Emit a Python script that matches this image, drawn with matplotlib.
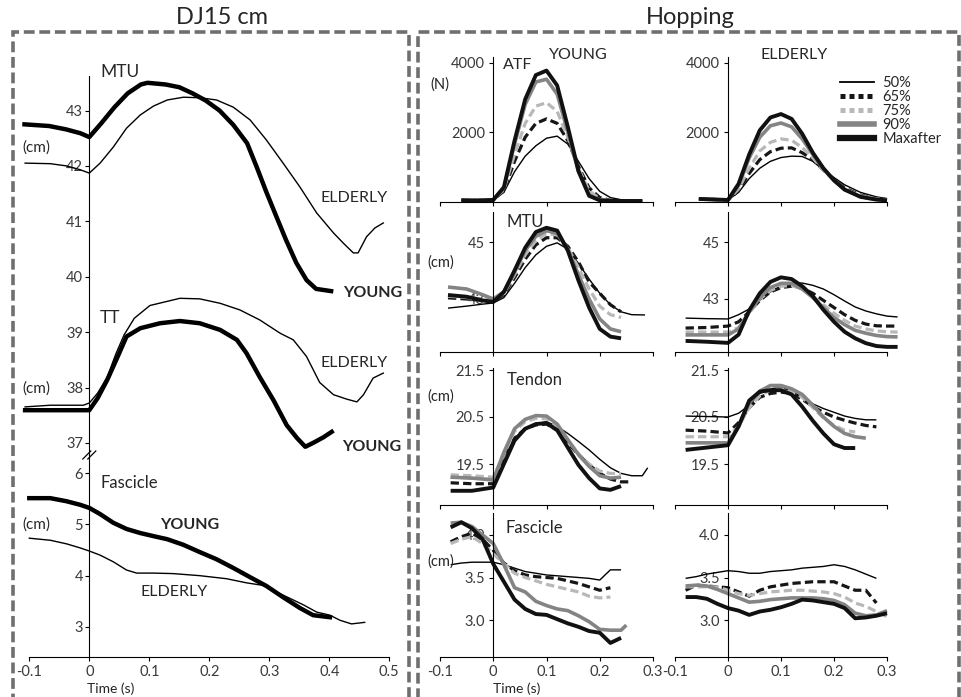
import numpy as np
import matplotlib
matplotlib.use('Agg')
import matplotlib.pyplot as plt
from matplotlib.patches import Rectangle
from matplotlib.lines import Line2D

nan = float('nan')

# ---------------- DJ15 cm (left panel) ----------------
dj_x_mtu_young = [-0.108, -0.067, -0.039, -0.015, 0, 0.02, 0.042, 0.064, 0.086, 0.097, 0.127, 0.15, 0.172,
                  0.194, 0.217, 0.24, 0.263, 0.279, 0.295, 0.312, 0.328, 0.345, 0.362, 0.378, 0.403]
dj_mtu_young = [42.75, 42.72, 42.66, 42.59, 42.52, 42.77, 43.06, 43.31, 43.47, 43.5, 43.47, 43.42, 43.31,
                43.18, 43.0, 42.74, 42.41, 41.98, 41.53, 41.08, 40.66, 40.25, 39.94, 39.78, 39.74]
dj_x_mtu_elderly = [-0.107, -0.065, -0.038, -0.015, 0, 0.018, 0.04, 0.062, 0.085, 0.107, 0.13, 0.157, 0.184,
                    0.212, 0.24, 0.268, 0.295, 0.323, 0.351, 0.379, 0.407, 0.423, 0.44, 0.448, 0.462, 0.476, 0.49]
dj_mtu_elderly = [42.05, 42.04, 42.0, 41.93, 41.87, 42.05, 42.34, 42.68, 42.92, 43.08, 43.19, 43.24, 43.23,
                  43.19, 43.06, 42.83, 42.47, 42.05, 41.62, 41.15, 40.79, 40.61, 40.43, 40.43, 40.72, 40.88, 40.97]
dj_x_tt_young = [-0.107, -0.065, 0, 0.014, 0.03, 0.047, 0.062, 0.085, 0.118, 0.151, 0.184, 0.218, 0.246,
                 0.262, 0.284, 0.307, 0.329, 0.346, 0.36, 0.373, 0.39, 0.404]
dj_tt_young = [37.59, 37.59, 37.59, 37.81, 38.14, 38.55, 38.92, 39.07, 39.16, 39.2, 39.16, 39.04, 38.86,
               38.62, 38.19, 37.77, 37.32, 37.09, 36.93, 37.0, 37.1, 37.2]
dj_x_tt_elderly = [-0.107, -0.065, -0.01, 0, 0.014, 0.03, 0.044, 0.058, 0.075, 0.101, 0.151, 0.184, 0.218,
                   0.251, 0.284, 0.318, 0.34, 0.362, 0.384, 0.407, 0.429, 0.446, 0.457, 0.473, 0.49]
dj_tt_elderly = [37.65, 37.68, 37.68, 37.72, 37.9, 38.19, 38.6, 38.95, 39.25, 39.48, 39.61, 39.6, 39.52,
                 39.4, 39.22, 38.98, 38.86, 38.56, 38.09, 37.87, 37.79, 37.74, 37.87, 38.17, 38.26]
dj_x_fas_young = [-0.1, -0.065, -0.038, -0.015, 0, 0.018, 0.04, 0.062, 0.085, 0.107, 0.13, 0.157, 0.184,
                  0.212, 0.24, 0.268, 0.295, 0.323, 0.351, 0.373, 0.401]
dj_fas_young = [5.51, 5.51, 5.45, 5.38, 5.32, 5.2, 5.03, 4.91, 4.83, 4.77, 4.71, 4.6, 4.46,
                4.32, 4.15, 3.97, 3.8, 3.58, 3.37, 3.23, 3.19]
dj_x_fas_elderly = [-0.1, -0.065, -0.038, -0.015, 0, 0.018, 0.04, 0.062, 0.079, 0.107, 0.14, 0.184, 0.229,
                    0.262, 0.29, 0.312, 0.334, 0.357, 0.379, 0.401, 0.418, 0.437, 0.459]
dj_fas_elderly = [4.73, 4.69, 4.62, 4.54, 4.48, 4.4, 4.27, 4.11, 4.05, 4.05, 4.04, 4.0, 3.94,
                  3.86, 3.81, 3.68, 3.56, 3.43, 3.29, 3.23, 3.13, 3.06, 3.09]
dj_xticks = [-0.1, 0, 0.1, 0.2, 0.3, 0.4, 0.5]
dj_xticklabels = ['-0.1', '0', '0.1', '0.2', '0.3', '0.4', '0.5']
dj_top_yticks = [37, 38, 39, 40, 41, 42, 43]
dj_bot_yticks = [3, 4, 5, 6]

# ---------------- Hopping (right panel) ----------------
series_labels = ['50%', '65%', '75%', '90%', 'Maxafter']

atf_young_x = [-0.06, -0.03, 0, 0.02, 0.04, 0.06, 0.08, 0.1, 0.12, 0.14, 0.16, 0.18, 0.2, 0.22, 0.25, 0.28]
atf_young_50 = [20, 15, 30, 250, 850, 1300, 1600, 1820, 1880, 1650, 1150, 650, 280, 100, 5, 0]
atf_young_65 = [20, 15, 30, 300, 1150, 1850, 2250, 2380, 2250, 1750, 1000, 380, 100, 20, 0, 0]
atf_young_75 = [20, 15, 30, 330, 1350, 2250, 2750, 2850, 2600, 1850, 950, 300, 60, 10, 0, 0]
atf_young_90 = [20, 15, 30, 380, 1650, 2800, 3450, 3530, 3100, 2000, 850, 180, 30, 5, 0, 0]
atf_young_max = [20, 15, 30, 400, 1750, 2950, 3650, 3780, 3350, 2150, 870, 150, 20, 5, 0, 0]

atf_eld_x = [-0.055, -0.02, 0, 0.02, 0.04, 0.06, 0.08, 0.1, 0.12, 0.14, 0.16, 0.18, 0.2, 0.22, 0.25, 0.28, 0.3]
atf_eld_50 = [60, 40, 30, 250, 650, 950, 1150, 1260, 1300, 1290, 1150, 900, 680, 470, 250, 120, 70]
atf_eld_65 = [60, 40, 30, 300, 800, 1200, 1430, 1530, 1540, 1400, 1200, 900, 620, 380, 170, 70, 40]
atf_eld_75 = [60, 40, 30, 350, 950, 1450, 1700, 1800, 1760, 1550, 1250, 900, 600, 350, 150, 60, 30]
atf_eld_90 = [60, 40, 30, 450, 1250, 1850, 2180, 2260, 2150, 1800, 1350, 930, 590, 330, 130, 50, 25]
atf_eld_max = [60, 40, 30, 500, 1350, 2050, 2420, 2520, 2380, 1950, 1400, 950, 600, 330, 120, 40, 20]

mtu_young_x = [-0.085, -0.05, -0.02, 0, 0.02, 0.04, 0.06, 0.08, 0.1, 0.12, 0.14, 0.16, 0.18, 0.2, 0.22, 0.24,
               0.26, 0.285]
mtu_young_50 = [42.68, 42.75, 42.82, 42.86, 43.05, 43.55, 44.1, 44.55, 44.85, 44.97, 44.75, 44.25, 43.7, 43.2,
                42.8, 42.55, 42.45, 42.44]
mtu_young_65 = [43.04, 43.0, 42.95, 42.92, 43.15, 43.75, 44.4, 44.9, 45.15, 45.15, 44.85, 44.3, 43.6, 43.2,
                42.8, 42.55, nan, nan]
mtu_young_75 = [43.1, 43.05, 43.0, 42.95, 43.2, 43.85, 44.55, 45.05, 45.3, 45.25, 44.8, 44.1, 43.35, 42.75,
                42.45, 42.35, nan, nan]
mtu_young_90 = [43.42, 43.35, 43.15, 43.0, 43.25, 43.95, 44.7, 45.2, 45.4, 45.3, 44.75, 43.85, 43.0, 42.3,
                41.95, 41.85, nan, nan]
mtu_young_max = [43.14, 43.08, 42.95, 42.9, 43.25, 44.0, 44.8, 45.35, 45.5, 45.4, 44.7, 43.65, 42.7, 41.95,
                 41.68, 41.62, nan, nan]

mtu_eld_x = [-0.08, -0.04, 0, 0.02, 0.04, 0.06, 0.08, 0.1, 0.12, 0.14, 0.16, 0.18, 0.2, 0.22, 0.24, 0.26,
             0.28, 0.3, 0.32]
mtu_eld_50 = [42.33, 42.31, 42.3, 42.45, 42.65, 42.95, 43.25, 43.45, 43.56, 43.56, 43.48, 43.35, 43.15, 42.93,
              42.72, 42.58, 42.48, 42.4, 42.37]
mtu_eld_65 = [41.98, 42.0, 42.05, 42.2, 42.55, 42.95, 43.25, 43.4, 43.45, 43.38, 43.2, 42.95, 42.7, 42.45,
              42.25, 42.12, 42.06, 42.05, 42.05]
mtu_eld_75 = [41.84, 41.84, 41.84, 42.0, 42.5, 43.0, 43.3, 43.45, 43.47, 43.35, 43.1, 42.8, 42.5, 42.25,
              42.05, 41.95, 41.88, 41.85, 41.84]
mtu_eld_90 = [41.74, 41.74, 41.74, 41.95, 42.55, 43.05, 43.4, 43.55, 43.55, 43.35, 43.05, 42.7, 42.35, 42.1,
              41.9, 41.8, 41.72, 41.68, 41.67]
mtu_eld_max = [41.53, 41.5, 41.46, 41.75, 42.6, 43.2, 43.6, 43.76, 43.7, 43.45, 43.1, 42.62, 42.2, 41.85,
               41.62, 41.45, 41.35, 41.32, 41.32]

ten_young_x = [-0.08, -0.04, 0, 0.02, 0.04, 0.06, 0.08, 0.1, 0.12, 0.14, 0.16, 0.18, 0.2, 0.22, 0.24, 0.26,
               0.28, 0.29]
ten_young_50 = [19.2, 19.19, 19.19, 19.65, 20.05, 20.25, 20.35, 20.4, 20.3, 20.15, 19.98, 19.8, 19.6, 19.42,
                19.3, 19.25, 19.25, 19.42]
ten_young_65 = [19.1, 19.08, 19.08, 19.55, 20.05, 20.25, 20.33, 20.35, 20.22, 19.95, 19.7, 19.48, 19.3, 19.18,
                19.12, 19.12, nan, nan]
ten_young_75 = [19.27, 19.25, 19.22, 19.7, 20.2, 20.4, 20.47, 20.46, 20.3, 20.0, 19.72, 19.5, 19.35, 19.3,
                19.3, nan, nan, nan]
ten_young_90 = [19.22, 19.2, 19.16, 19.75, 20.25, 20.45, 20.53, 20.52, 20.35, 20.02, 19.7, 19.45, 19.25, 19.2,
                19.22, nan, nan, nan]
ten_young_max = [18.93, 18.93, 19.0, 19.5, 20.0, 20.25, 20.35, 20.37, 20.22, 19.85, 19.48, 19.2, 18.98, 18.95,
                 19.03, nan, nan, nan]

ten_eld_x = [-0.08, -0.04, 0, 0.02, 0.04, 0.06, 0.08, 0.1, 0.12, 0.14, 0.16, 0.18, 0.2, 0.22, 0.24, 0.26, 0.28]
ten_eld_50 = [20.52, 20.51, 20.5, 20.58, 20.75, 21.0, 21.1, 21.13, 21.05, 20.92, 20.78, 20.68, 20.6, 20.52,
              20.47, 20.44, 20.44]
ten_eld_65 = [20.22, 20.2, 20.16, 20.38, 20.7, 20.92, 21.0, 21.03, 21.0, 20.88, 20.72, 20.6, 20.5, 20.43,
              20.37, 20.32, 20.29]
ten_eld_75 = [20.08, 20.08, 20.08, 20.3, 20.7, 20.95, 21.08, 21.1, 21.05, 20.92, 20.7, 20.48, 20.32, 20.22,
              20.18, nan, nan]
ten_eld_90 = [19.95, 19.95, 19.95, 20.3, 20.8, 21.05, 21.17, 21.17, 21.1, 20.98, 20.75, 20.5, 20.3, 20.15,
              20.08, 20.05, nan]
ten_eld_max = [19.8, 19.85, 19.9, 20.3, 20.85, 21.04, 21.07, 21.07, 20.98, 20.72, 20.42, 20.15, 19.92, 19.84,
               19.84, nan, nan]

fas_young_x = [-0.08, -0.06, -0.04, -0.02, 0, 0.02, 0.04, 0.06, 0.08, 0.1, 0.12, 0.14, 0.16, 0.18, 0.2, 0.22,
               0.24, 0.25]
fas_young_50 = [3.65, 3.67, 3.68, 3.68, 3.68, 3.65, 3.61, 3.57, 3.55, 3.53, 3.52, 3.51, 3.5, 3.49, 3.47, 3.59,
                3.59, nan]
fas_young_65 = [3.92, 3.98, 4.02, 3.95, 3.82, 3.67, 3.58, 3.53, 3.51, 3.5, 3.49, 3.46, 3.43, 3.39, 3.35, 3.38,
                nan, nan]
fas_young_75 = [3.9, 3.95, 3.98, 3.9, 3.78, 3.66, 3.55, 3.5, 3.46, 3.42, 3.39, 3.36, 3.33, 3.28, 3.26, 3.27,
                nan, nan]
fas_young_90 = [4.14, 4.15, 4.1, 4.0, 3.9, 3.65, 3.38, 3.33, 3.22, 3.17, 3.13, 3.11, 3.05, 2.98, 2.89, 2.88,
                2.88, 2.94]
fas_young_max = [4.09, 4.15, 4.08, 3.95, 3.66, 3.45, 3.24, 3.13, 3.07, 3.06, 3.01, 2.96, 2.92, 2.87, 2.85, 2.73,
                 2.79, nan]

fas_eld_x = [-0.08, -0.06, -0.04, -0.02, 0, 0.02, 0.04, 0.06, 0.08, 0.1, 0.12, 0.14, 0.16, 0.18, 0.2, 0.22,
             0.24, 0.26, 0.28, 0.3]
fas_eld_50 = [3.49, 3.51, 3.54, 3.56, 3.58, 3.57, 3.55, 3.55, 3.57, 3.58, 3.59, 3.61, 3.62, 3.63, 3.65, 3.63,
              3.59, 3.54, 3.49, nan]
fas_eld_65 = [3.35, 3.41, 3.4, 3.39, 3.38, 3.33, 3.28, 3.35, 3.39, 3.41, 3.43, 3.44, 3.45, 3.45, 3.45, 3.4,
              3.35, 3.35, 3.2, nan]
fas_eld_75 = [3.39, 3.39, 3.39, 3.39, 3.35, 3.31, 3.29, 3.31, 3.33, 3.34, 3.35, 3.35, 3.34, 3.33, 3.31, 3.27,
              3.2, 3.16, 3.1, 3.04]
fas_eld_90 = [3.4, 3.41, 3.4, 3.36, 3.31, 3.26, 3.21, 3.22, 3.24, 3.25, 3.26, 3.26, 3.26, 3.25, 3.23, 3.18,
              3.08, 3.05, 3.06, 3.11]
fas_eld_max = [3.27, 3.27, 3.25, 3.19, 3.14, 3.11, 3.06, 3.1, 3.12, 3.15, 3.19, 3.24, 3.23, 3.21, 3.19, 3.14,
               3.02, 3.03, 3.05, 3.08]

hop_xticks = [-0.1, 0, 0.1, 0.2, 0.3]
hop_xticklabels = ['-0.1', '0', '0.1', '0.2', '0.3']
hop_yticks = [[2000, 4000], [43, 45], [19.5, 20.5, 21.5], [3.0, 3.5, 4.0]]
hop_yticklabels = [['2000', '4000'], ['43', '45'], ['19.5', '20.5', '21.5'], ['3.0', '3.5', '4.0']]

# ---------------- figure ----------------
plt.rcParams['font.family'] = ['Lato', 'DejaVu Sans']
W, H = 962, 697
fig = plt.figure(figsize=(W / 100, H / 100), dpi=100)
TXT = '#262626'
TICK = '#3a3a3a'


def pax(l, t, r, b):
    return fig.add_axes([l / W, 1 - b / H, (r - l) / W, (b - t) / H])


def ptext(x, y, s, **kw):
    kw.setdefault('ha', 'left')
    kw.setdefault('va', 'center')
    kw.setdefault('color', TXT)
    fig.text(x / W, 1 - y / H, s, **kw)


def style_axis(ax):
    for s in ['top', 'right']:
        ax.spines[s].set_visible(False)
    ax.spines['left'].set_position(('data', 0))
    ax.patch.set_alpha(0)
    ax.tick_params(axis='both', direction='out', length=3, width=0.8, colors='black',
                   labelcolor=TICK, labelsize=10.5)


# dashed frames
fig.add_artist(Rectangle((13 / W, -0.02), (409 - 13) / W, 1.02 - 32 / H, transform=fig.transFigure,
                         fill=False, ec='#6f6f6f', lw=2.6, ls=(0, (3, 1.3))))
fig.add_artist(Rectangle((418 / W, -0.02), (959 - 418) / W, 1.02 - 32 / H, transform=fig.transFigure,
                         fill=False, ec='#6f6f6f', lw=2.6, ls=(0, (3, 1.3))))
ptext(222, 17, 'DJ15 cm', ha='center', fontsize=17)
ptext(690, 17, 'Hopping', ha='center', fontsize=17)

# ---- left DJ15 panel
dj_x0, dj_s = 89.3, 600.0
dj_l, dj_r = dj_x0 - 0.11 * dj_s, dj_x0 + 0.5 * dj_s
ax_top = pax(dj_l, 76, dj_r, 455)
ax_top.set_xlim(-0.11, 0.5)
ax_top.set_ylim(43 - (455 - 110.5) / 55.4, 43 + (110.5 - 76) / 55.4)
style_axis(ax_top)
ax_top.spines['bottom'].set_visible(False)
ax_top.set_xticks([])
ax_top.set_yticks(dj_top_yticks)
ax_top.tick_params(axis='y', pad=1.5)
ax_top.plot(dj_x_mtu_elderly, dj_mtu_elderly, color='black', lw=1.0, clip_on=False)
ax_top.plot(dj_x_mtu_young, dj_mtu_young, color='black', lw=3.2, clip_on=False)
ax_top.plot(dj_x_tt_elderly, dj_tt_elderly, color='black', lw=1.0, clip_on=False)
ax_top.plot(dj_x_tt_young, dj_tt_young, color='black', lw=3.2, clip_on=False)

ax_bot = pax(dj_l, 455, dj_r, 657)
ax_bot.set_xlim(-0.11, 0.5)
ax_bot.set_ylim(3 - (657 - 627) / 51.3, 6 + (473 - 455) / 51.3)
style_axis(ax_bot)
ax_bot.spines['bottom'].set_bounds(-0.1, 0.5)
ax_bot.set_xticks(dj_xticks)
ax_bot.set_xticklabels(dj_xticklabels)
ax_bot.set_yticks(dj_bot_yticks)
ax_bot.tick_params(axis='y', pad=1.5)
ax_bot.tick_params(axis='x', pad=2.5)
ax_bot.plot(dj_x_fas_elderly, dj_fas_elderly, color='black', lw=1.0, clip_on=False)
ax_bot.plot(dj_x_fas_young, dj_fas_young, color='black', lw=3.2, clip_on=False)

# axis break mark
for dx in (-2.5, 2.5):
    fig.add_artist(Line2D([(dj_x0 - 4 + dx) / W, (dj_x0 + 4 + dx) / W], [1 - 459 / H, 1 - 451 / H],
                          transform=fig.transFigure, color='black', lw=0.9))

ptext(100, 72, 'MTU', fontsize=12.5)
ptext(22, 148, '(cm)', fontsize=11)
ptext(320, 198, 'ELDERLY', fontsize=11.5)
ptext(343, 293, 'YOUNG', fontsize=11.5, fontweight='bold')
ptext(100, 318, 'TT', fontsize=12.5)
ptext(22, 389, '(cm)', fontsize=11)
ptext(320, 363, 'ELDERLY', fontsize=11.5)
ptext(342, 447, 'YOUNG', fontsize=11.5, fontweight='bold')
ptext(100, 483, 'Fascicle', fontsize=12)
ptext(22, 525, '(cm)', fontsize=11)
ptext(160, 525, 'YOUNG', fontsize=11.5, fontweight='bold')
ptext(140, 592, 'ELDERLY', fontsize=11.5)
ptext(87, 689, 'Time (s)', fontsize=10)

# ---- right Hopping panels
line_styles = [dict(color='black', lw=1.0),
               dict(color='#161616', lw=2.3, ls=(0, (2.6, 1.3))),
               dict(color='#b8b8b8', lw=2.3, ls=(0, (2.6, 1.3))),
               dict(color='#848484', lw=2.6),
               dict(color='#111111', lw=2.8)]

panels = {
    (0, 0): (atf_young_x, [atf_young_50, atf_young_65, atf_young_75, atf_young_90, atf_young_max]),
    (0, 1): (atf_eld_x, [atf_eld_50, atf_eld_65, atf_eld_75, atf_eld_90, atf_eld_max]),
    (1, 0): (mtu_young_x, [mtu_young_50, mtu_young_65, mtu_young_75, mtu_young_90, mtu_young_max]),
    (1, 1): (mtu_eld_x, [mtu_eld_50, mtu_eld_65, mtu_eld_75, mtu_eld_90, mtu_eld_max]),
    (2, 0): (ten_young_x, [ten_young_50, ten_young_65, ten_young_75, ten_young_90, ten_young_max]),
    (2, 1): (ten_eld_x, [ten_eld_50, ten_eld_65, ten_eld_75, ten_eld_90, ten_eld_max]),
    (3, 0): (fas_young_x, [fas_young_50, fas_young_65, fas_young_75, fas_young_90, fas_young_max]),
    (3, 1): (fas_eld_x, [fas_eld_50, fas_eld_65, fas_eld_75, fas_eld_90, fas_eld_max]),
}

col_x0 = [493.25, 728.0]
col_s = [532.5, 530.0]
rows_tb = [(57, 202), (212, 352), (368, 505), (513, 657)]
row_ylim = [((201 - 202) * 4000 / 138, (201 - 57) * 4000 / 138),
            (45 - (352 - 242) / 28.5, 45 + (242 - 212) / 28.5),
            (20.5 - (505 - 417) / 47, 20.5 + (417 - 368) / 47),
            (3 - (657 - 620) / 85, 3 + (620 - 513) / 85)]

for (r, c), (xs, ys) in panels.items():
    x0, s = col_x0[c], col_s[c]
    t, b = rows_tb[r]
    ax = pax(x0 - 0.105 * s, t, x0 + 0.325 * s, b)
    ax.set_xlim(-0.105, 0.325)
    ax.set_ylim(*row_ylim[r])
    style_axis(ax)
    ax.spines['bottom'].set_bounds(-0.1, 0.3)
    ax.set_xticks(hop_xticks)
    if r == 3:
        ax.set_xticklabels(hop_xticklabels)
        ax.tick_params(axis='x', pad=2.5)
    else:
        ax.set_xticklabels([])
    ax.set_yticks(hop_yticks[r])
    ax.set_yticklabels(hop_yticklabels[r])
    ax.tick_params(axis='y', pad=3)
    for yv, st in zip(ys, line_styles):
        ax.plot(xs, yv, clip_on=False, solid_capstyle='butt', **st)

# legend
leg_handles = [Line2D([], [], color='black', lw=1.3),
               Line2D([], [], color='#161616', lw=3.6, ls=(0, (1.0, 0.8))),
               Line2D([], [], color='#b8b8b8', lw=3.6, ls=(0, (1.0, 0.8))),
               Line2D([], [], color='#848484', lw=4.0),
               Line2D([], [], color='#111111', lw=4.5)]
fig.legend(leg_handles, series_labels, loc='upper left', bbox_to_anchor=(840 / W, 1 - 76 / H),
           frameon=False, fontsize=10.5, handlelength=2.3, handletextpad=0.6, labelspacing=0.0,
           borderpad=0, borderaxespad=0, labelcolor=TXT)

ptext(430, 85, '(N)', fontsize=10.5)
ptext(503, 65, 'ATF', fontsize=11.5)
ptext(578, 55, 'YOUNG', ha='center', fontsize=11.5)
ptext(794, 55, 'ELDERLY', ha='center', fontsize=11.5)
ptext(507, 222, 'MTU', fontsize=12)
ptext(427, 263, '(cm)', fontsize=10.5)
ptext(507, 380, 'Tendon', fontsize=12)
ptext(427, 397, '(cm)', fontsize=10.5)
ptext(506, 528, 'Fascicle', fontsize=12)
ptext(427, 562, '(cm)', fontsize=10.5)
ptext(493, 689, 'Time (s)', fontsize=10)

fig.savefig('out.png', dpi=100)
